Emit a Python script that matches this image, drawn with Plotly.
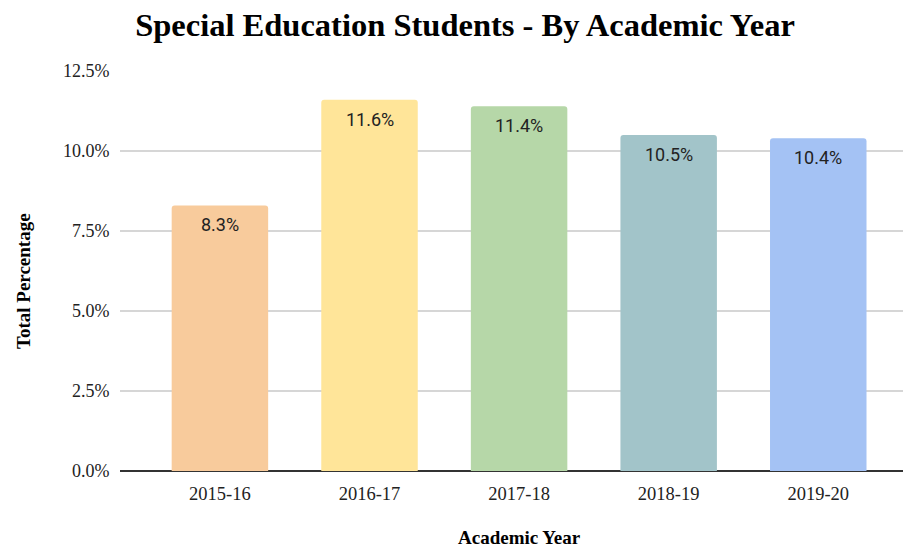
import plotly.graph_objects as go

categories = ["2015-16", "2016-17", "2017-18", "2018-19", "2019-20"]
values = [8.3, 11.6, 11.4, 10.5, 10.4]
labels = ["8.3%", "11.6%", "11.4%", "10.5%", "10.4%"]
colors = ["#F8CB9C", "#FFE599", "#B6D7A8", "#A2C4C9", "#A4C2F4"]
y_ticks = [0, 2.5, 5, 7.5, 10, 12.5]
y_tick_labels = ["0.0%", "2.5%", "5.0%", "7.5%", "10.0%", "12.5%"]

serif = "Liberation Serif, Times New Roman, serif"

# The page body adds an 8px offset, so the figure is 8px smaller than the window.
W, H = 903, 540
L, T, B = 112, 63, 77
PW, PH = W - L, H - T - B

fig = go.Figure()
fig.add_trace(go.Bar(
    x=categories, y=values, width=0.645,
    marker=dict(color=colors, line=dict(width=0), cornerradius=3),
    hoverinfo="skip",
))

for c, v, t in zip(categories, values, labels):
    fig.add_annotation(x=c, y=v, text=t, showarrow=False, yanchor="top", yshift=-7,
                       font=dict(family="Roboto, sans-serif", size=18, color="#222222"))

fig.update_layout(
    width=W, height=H,
    margin=dict(l=L, r=0, t=T, b=B),
    paper_bgcolor="white", plot_bgcolor="white",
    showlegend=False,
    title=dict(text="<b>Special Education Students - By Academic Year</b>",
               x=(465 - 8) / W, xanchor="center",
               y=1 - 17 / H, yanchor="middle",
               font=dict(family=serif, size=32.5, color="#000000")),
    xaxis=dict(
        range=[-0.668, 4.62], showgrid=False, showline=False,
        tickfont=dict(family=serif, size=18.5, color="#222222"),
        ticks="outside", ticklen=6, tickcolor="rgba(0,0,0,0)",
    ),
    yaxis=dict(
        range=[0, 12.5], tickvals=y_ticks, ticktext=y_tick_labels,
        showgrid=True, gridcolor="#d6d6d6", gridwidth=1.5,
        zeroline=True, zerolinecolor="#333333", zerolinewidth=2,
        showline=False,
        tickfont=dict(family=serif, size=18, color="#222222"),
        ticks="outside", ticklen=6, tickcolor="rgba(0,0,0,0)",
    ),
    annotations=list(fig.layout.annotations) + [
        dict(text="<b>Academic Year</b>", xref="paper", yref="paper",
             x=(519 - 8 - L) / PW, y=-(537 - 8 - (T + PH)) / PH,
             xanchor="center", yanchor="middle", showarrow=False,
             font=dict(family=serif, size=19, color="#000000")),
        dict(text="<b>Total Percentage</b>", xref="paper", yref="paper",
             x=-(L - (23 - 8)) / PW, y=(T + PH - (281 - 8)) / PH,
             xanchor="center", yanchor="middle", textangle=-90,
             showarrow=False, font=dict(family=serif, size=19, color="#000000")),
    ],
)

fig.write_html("out.html")
